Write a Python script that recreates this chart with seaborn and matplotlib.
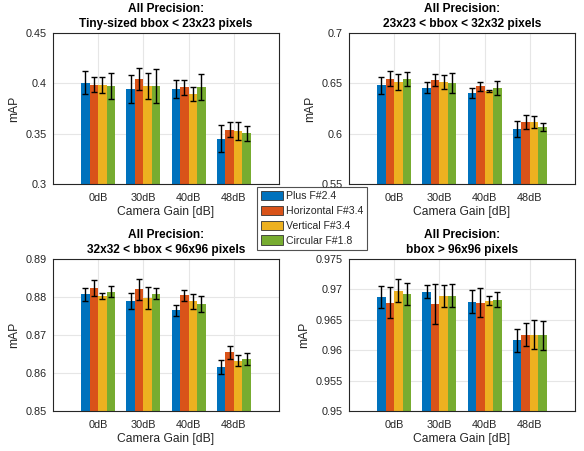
import matplotlib
matplotlib.use("Agg")
import matplotlib.pyplot as plt
import seaborn as sns
import pandas as pd
import numpy as np
from matplotlib.patches import Patch
from matplotlib.container import BarContainer
from matplotlib.ticker import FormatStrFormatter

gains = ["0dB", "30dB", "40dB", "48dB"]
lenses = ["Plus F#2.4", "Horizontal F#3.4", "Vertical F#3.4", "Circular F#1.8"]
colors = ["#0072BD", "#D95319", "#EDB120", "#77AC30"]

titles = ["All Precision:\nTiny-sized bbox < 23x23 pixels",
          "All Precision:\n23x23 < bbox < 32x32 pixels",
          "All Precision:\n32x32 < bbox < 96x96 pixels",
          "All Precision:\nbbox > 96x96 pixels"]

# mean values per panel: rows = lens, cols = gain
tiny_mean = [[0.4007, 0.3947, 0.3947, 0.3450],
             [0.3987, 0.4043, 0.3960, 0.3540],
             [0.3980, 0.3970, 0.3894, 0.3530],
             [0.3977, 0.3970, 0.3964, 0.3503]]
tiny_err = [[0.0116, 0.0140, 0.0090, 0.0134],
            [0.0078, 0.0106, 0.0078, 0.0073],
            [0.0080, 0.0128, 0.0070, 0.0090],
            [0.0130, 0.0170, 0.0132, 0.0076]]

small_mean = [[0.6482, 0.6456, 0.6403, 0.6044],
              [0.6545, 0.6532, 0.6470, 0.6116],
              [0.6515, 0.6509, 0.6426, 0.6116],
              [0.6542, 0.6505, 0.6453, 0.6067]]
small_err = [[0.0084, 0.0053, 0.0048, 0.0080],
             [0.0073, 0.0058, 0.0045, 0.0068],
             [0.0080, 0.0070, 0.0010, 0.0060],
             [0.0068, 0.0100, 0.0070, 0.0043]]

medium_mean = [[0.88072, 0.87888, 0.87652, 0.86164],
               [0.88238, 0.88204, 0.88040, 0.86549],
               [0.88028, 0.87976, 0.87888, 0.86322],
               [0.88142, 0.88090, 0.87827, 0.86365]]
medium_err = [[0.0017, 0.0021, 0.0014, 0.0018],
              [0.0020, 0.0028, 0.0014, 0.0017],
              [0.0009, 0.0028, 0.0020, 0.0015],
              [0.0015, 0.0014, 0.0021, 0.0015]]

large_mean = [[0.96876, 0.96964, 0.96800, 0.96165],
              [0.96783, 0.96767, 0.96783, 0.96258],
              [0.96975, 0.96887, 0.96816, 0.96258],
              [0.96926, 0.96898, 0.96833, 0.96247]]
large_err = [[0.0018, 0.0011, 0.0019, 0.0019],
             [0.0026, 0.0033, 0.0024, 0.0019],
             [0.0019, 0.0018, 0.0008, 0.0024],
             [0.0018, 0.0019, 0.0013, 0.0024]]

ylims = [(0.3, 0.45), (0.55, 0.7), (0.85, 0.89), (0.95, 0.975)]
yticks = [[0.3, 0.35, 0.4, 0.45],
          [0.55, 0.6, 0.65, 0.7],
          [0.85, 0.86, 0.87, 0.88, 0.89],
          [0.95, 0.955, 0.96, 0.965, 0.97, 0.975]]

panels = [(tiny_mean, tiny_err), (small_mean, small_err),
          (medium_mean, medium_err), (large_mean, large_err)]

sns.set_style("white")
plt.rcParams['font.family'] = ['Liberation Sans', 'DejaVu Sans']
plt.rcParams['font.size'] = 8

fig = plt.figure(figsize=(5.84, 4.51), dpi=100)
positions = [
    [53/584, 1-184/451, 226/584, 151/451],
    [349/584, 1-184/451, 226/584, 151/451],
    [53/584, 1-411/451, 226/584, 152/451],
    [349/584, 1-411/451, 226/584, 152/451],
]

txt = "#262626"
for i, ((mean, err), pos) in enumerate(zip(panels, positions)):
    ax = fig.add_axes(pos)
    rows = []
    for li, lens in enumerate(lenses):
        for gi, g in enumerate(gains):
            rows.append({"gain": g, "lens": lens, "mAP": mean[li][gi]})
    df = pd.DataFrame(rows)
    sns.barplot(data=df, x="gain", y="mAP", hue="lens", order=gains, hue_order=lenses,
                palette=colors, width=0.75, errorbar=None, ax=ax, legend=False,
                saturation=1, linewidth=0, zorder=2)
    bar_conts = [c for c in ax.containers if isinstance(c, BarContainer)]
    for li, cont in enumerate(bar_conts):
        xs = [b.get_x() + b.get_width()/2 for b in cont.patches]
        ax.errorbar(xs, mean[li], yerr=err[li], fmt="none", ecolor="black",
                    elinewidth=1.0, capsize=1.9, capthick=1.0, zorder=3)
    ax.set_xlim(-1, 4)
    ax.set_ylim(*ylims[i])
    ax.set_yticks(yticks[i])
    ax.yaxis.set_major_formatter(FormatStrFormatter('%g'))
    ax.set_xticks(range(4))
    ax.set_xticklabels(gains)
    ax.grid(True, color="#e6e6e6", linewidth=0.8, zorder=0)
    ax.set_axisbelow(True)
    ax.set_title(titles[i], fontsize=8.6, fontweight="bold", color="black", pad=4, linespacing=1.35)
    ax.set_xlabel("Camera Gain [dB]", fontsize=8.7, color=txt, labelpad=2)
    ax.set_ylabel("mAP", fontsize=8.7, color=txt, labelpad=4)
    ax.tick_params(axis="x", labelsize=7.8, colors=txt, length=2.5, direction="in", pad=6.5)
    ax.tick_params(axis="y", labelsize=7.8, colors=txt, length=2.5, direction="out", pad=2)
    for s in ax.spines.values():
        s.set_color(txt)
        s.set_linewidth(0.8)

handles = [Patch(facecolor=c, edgecolor="#333333", linewidth=0.6, label=l) for c, l in zip(colors, lenses)]
leg = fig.legend(handles=handles, loc="upper left", bbox_to_anchor=(257/584, 1-187/451),
                 frameon=True, fancybox=False, fontsize=7.6, handlelength=2.1, handleheight=1.05,
                 handletextpad=0.3, labelspacing=0.42, borderpad=0.35, borderaxespad=0)
leg.get_frame().set_edgecolor("#262626")
leg.get_frame().set_linewidth(0.8)

fig.savefig("out.png", dpi=100)
